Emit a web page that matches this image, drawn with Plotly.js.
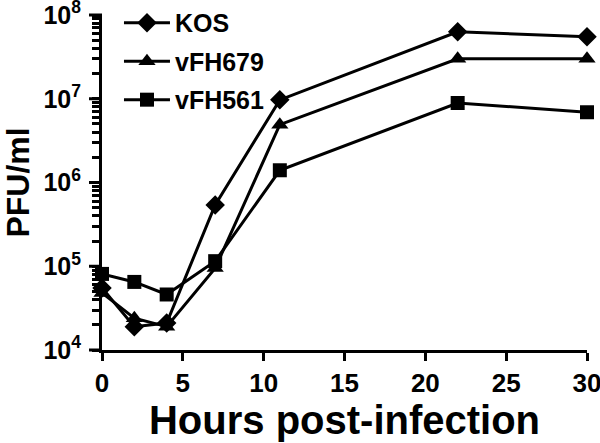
<!DOCTYPE html>
<html>
<head>
<meta charset="utf-8">
<script src="https://cdn.plot.ly/plotly-3.0.1.min.js"></script>
<style>
  body { margin: 0; background: #fff; }
  #myPlot { width: 600px; height: 443px; }
</style>
</head>
<body>
<div id="myPlot"></div>
<script>
// Data
const hours = [0, 2, 4, 7, 11, 22, 30];
const kos = [5.5e4, 1.9e4, 2.1e4, 5.4e5, 9.7e6, 6.3e7, 5.5e7];
const vfh679 = [4.8e4, 2.4e4, 1.9e4, 9.5e4, 4.9e6, 3.0e7, 3.0e7];
const vfh561 = [8.1e4, 6.5e4, 4.6e4, 1.15e5, 1.4e6, 8.9e6, 6.9e6];

const yMajor = [1e4, 1e5, 1e6, 1e7, 1e8];
const yMajorText = ["10<sup>4</sup>", "10<sup>5</sup>", "10<sup>6</sup>", "10<sup>7</sup>", "10<sup>8</sup>"];
const xTicks = [0, 5, 10, 15, 20, 25, 30];

// minor ticks 2..9 in each decade
const yMinor = [];
for (let d = 4; d < 8; d++) {
  for (let m = 2; m <= 9; m++) yMinor.push(m * Math.pow(10, d));
}

// the y axis draws every tick (short); only the decades get a label
const yTickVals = yMajor.concat(yMinor);
const yTickText = yMajorText.concat(yMinor.map(() => ""));

const fontFam = "Liberation Sans, Arial, sans-serif";
const yLogRange = [4, 8];

function series(name, y, symbol, size) {
  return {
    x: hours, y: y, name: name, legendgroup: name,
    mode: "lines+markers",
    line: {color: "black", width: 3},
    marker: {symbol: symbol, size: size, color: "black"},
    cliponaxis: false
  };
}

const data = [
  series("KOS", kos, "diamond", 15),
  series("vFH679", vfh679, "triangle-up", 15),
  series("vFH561", vfh561, "square", 14)
];

// longer tick marks at the decades, in paper coords
const plotW = 600 - 102 - 13;
const majorShapes = yMajor.map(v => {
  const yp = (Math.log10(v) - yLogRange[0]) / (yLogRange[1] - yLogRange[0]);
  return {
    type: "line", xref: "paper", yref: "paper",
    x0: -13 / plotW, x1: 0, y0: yp, y1: yp,
    line: {color: "black", width: 3}, layer: "above"
  };
});

const layout = {
  width: 600, height: 443,
  margin: {l: 102, r: 13, t: 15, b: 93, autoexpand: false},
  paper_bgcolor: "white", plot_bgcolor: "white",
  font: {family: fontFam, color: "black", weight: "bold"},
  showlegend: true,
  legend: {
    x: 0.035, y: 1.045, xanchor: "left", yanchor: "top",
    font: {size: 25, family: fontFam, weight: "bold"},
    bgcolor: "rgba(0,0,0,0)", tracegroupgap: 3, itemwidth: 46
  },
  shapes: majorShapes,
  xaxis: {
    range: [0, 30], tickvals: xTicks,
    showgrid: false, zeroline: false,
    showline: true, linecolor: "black", linewidth: 3,
    ticks: "outside", ticklen: 8, tickwidth: 3, tickcolor: "black",
    ticklabeloverflow: "allow",
    tickfont: {size: 26, family: fontFam, weight: "bold"},
    title: {text: "Hours post-infection", font: {size: 40, family: fontFam, weight: "bold"}, standoff: 2}
  },
  yaxis: {
    type: "log", range: yLogRange,
    tickvals: yTickVals, ticktext: yTickText,
    showgrid: false, zeroline: false,
    showline: true, linecolor: "black", linewidth: 3,
    ticks: "outside", ticklen: 7, tickwidth: 2.5, tickcolor: "black",
    ticklabeloverflow: "allow", ticklabelstandoff: 6,
    tickfont: {size: 25, family: fontFam, weight: "bold"},
    title: {text: "PFU/ml", font: {size: 32, family: fontFam, weight: "bold"}, standoff: 8}
  }
};

Plotly.newPlot("myPlot", data, layout, {displayModeBar: false});
</script>
</body>
</html>
